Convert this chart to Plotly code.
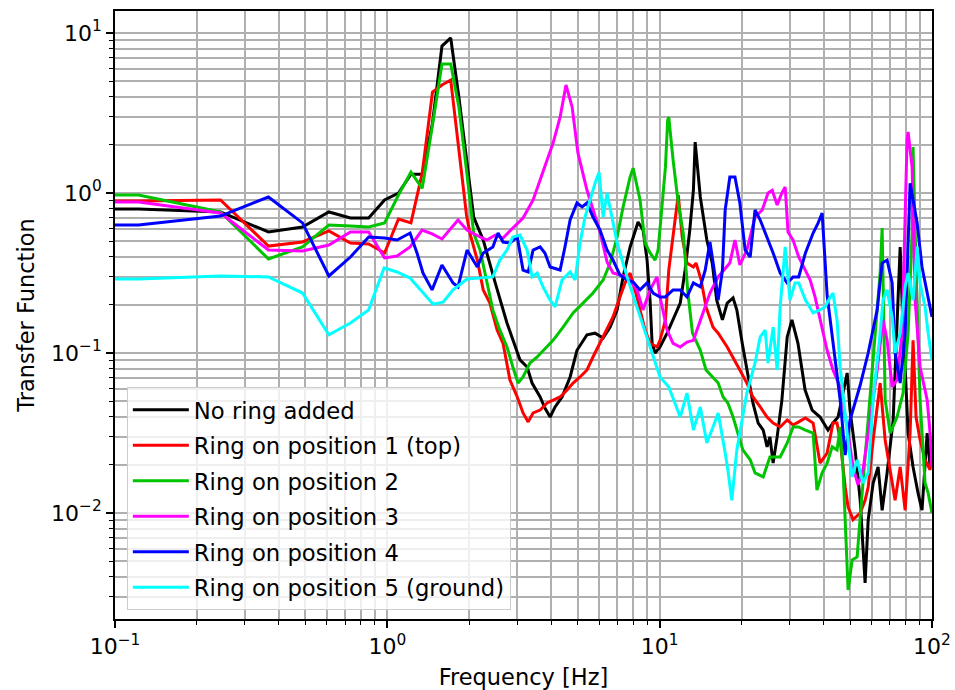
import plotly.graph_objects as go

# ---------------- data ----------------
series_names = [
    "No ring added",
    "Ring on position 1 (top)",
    "Ring on position 2",
    "Ring on position 3",
    "Ring on position 4",
    "Ring on position 5 (ground)",
]

black_f = [0.1, 0.122, 0.244, 0.366, 0.488, 0.610, 0.732, 0.854, 0.977, 1.099,
           1.221, 1.343, 1.465, 1.587, 1.709, 1.831, 2.075, 2.25, 2.49, 2.75,
           3.07, 3.26, 3.40, 3.64, 3.79, 3.96, 4.13, 4.38, 4.69, 4.97,
           5.41, 5.79, 6.20, 6.58, 6.98, 7.34, 7.79, 8.33, 8.69, 8.99,
           9.22, 9.38, 9.62, 10.03, 10.65, 11.2, 11.9, 12.4, 12.9, 13.3,
           13.5, 14.1, 14.9, 15.6, 16.2, 17.0, 17.7, 18.6, 19.2, 20.1,
           20.9, 22.0, 23.0, 24.0, 24.8, 25.4, 26.1, 27.0, 28.1, 29.4,
           30.6, 32.2, 34.2, 36.3, 38.8, 41.5, 43.3, 45.2, 48.8, 50.0,
           52.2, 54.5, 56.8, 58.3, 60.8, 63.4, 65.6, 68.4, 72.0, 74.4,
           76.4, 78.3, 79.7, 81.7, 85.2, 88.9, 91.9, 96.0, 98.4, 100]
black_v = [0.794, 0.794, 0.761, 0.571, 0.613, 0.761, 0.698, 0.698, 0.905, 1.0,
           1.31, 1.31, 2.74, 8.29, 9.31, 3.98, 0.708, 0.508, 0.274, 0.154,
           0.0905, 0.0818, 0.0649, 0.0531, 0.0453, 0.0398, 0.046, 0.0531, 0.0708, 0.104,
           0.130, 0.133, 0.124, 0.145, 0.186, 0.299, 0.46, 0.659, 0.587, 0.381,
           0.214, 0.115, 0.1, 0.109, 0.133, 0.161, 0.205, 0.330, 0.587, 1.04,
           2.08, 0.944, 0.508, 0.365, 0.214, 0.161, 0.205, 0.221, 0.186, 0.115,
           0.0783, 0.0487, 0.0365, 0.033, 0.0259, 0.0299, 0.0205, 0.0299, 0.0506, 0.126,
           0.161, 0.115, 0.0587, 0.044, 0.0398, 0.033, 0.0365, 0.0398, 0.075, 0.044,
           0.0248, 0.012, 0.00366, 0.00905, 0.0154, 0.0194, 0.0104, 0.0178, 0.0381, 0.139,
           0.46, 0.139, 0.0818, 0.0316, 0.0194, 0.0133, 0.0104, 0.0316, 0.0194, 0.0248]

red_f = [0.1, 0.122, 0.244, 0.366, 0.488, 0.610, 0.732, 0.854, 0.977, 1.099,
         1.221, 1.343, 1.465, 1.587, 1.709, 1.831, 1.953, 2.01, 2.14, 2.25,
         2.38, 2.53, 2.66, 2.82, 3.00, 3.15, 3.29, 3.43, 3.64, 3.86,
         4.06, 4.31, 4.57, 4.81, 5.10, 5.41, 5.69, 6.04, 6.41, 6.74,
         7.15, 7.46, 7.79, 8.12, 8.47, 8.84, 9.22, 9.78, 10.03, 10.5,
         10.8, 11.4, 11.7, 12.1, 12.6, 13.3, 13.6, 14.2, 14.8, 15.7,
         16.4, 17.7, 18.6, 19.7, 20.9, 22.0, 23.4, 24.8, 26.1, 27.7,
         29.4, 30.9, 32.4, 34.3, 36.6, 38.8, 41.2, 43.3, 44.8, 46.0,
         48.0, 49.2, 51.3, 54.5, 56.8, 58.3, 60.8, 64.5, 67.3, 70.2,
         73.2, 76.4, 79.7, 83.1, 85.2, 87.4, 90.4, 94.3, 98.4, 100]
red_v = [0.891, 0.891, 0.905, 0.466, 0.494, 0.579, 0.487, 0.48, 0.422, 0.688,
         0.65, 1.33, 4.28, 4.73, 5.08, 1.78, 0.729, 0.562, 0.381, 0.248,
         0.205, 0.139, 0.115, 0.0678, 0.0531, 0.0422, 0.0371, 0.0422, 0.044, 0.0487,
         0.0509, 0.0531, 0.0587, 0.0649, 0.0708, 0.0783, 0.0944, 0.115, 0.139, 0.168,
         0.224, 0.274, 0.316, 0.248, 0.186, 0.139, 0.115, 0.109, 0.12, 0.161,
         0.33, 0.659, 0.972, 0.531, 0.365, 0.345, 0.365, 0.286, 0.194, 0.145,
         0.133, 0.109, 0.0944, 0.0783, 0.0649, 0.0531, 0.046, 0.0398, 0.0365, 0.0345,
         0.0381, 0.0355, 0.0371, 0.0393, 0.0365, 0.0205, 0.0237, 0.0365, 0.0365, 0.0286,
         0.0145, 0.0109, 0.0091, 0.01, 0.012, 0.0145, 0.0286, 0.0649, 0.0286, 0.0186,
         0.012, 0.0194, 0.0104, 0.0316, 0.12, 0.0398, 0.0286, 0.0215, 0.0186, 0.0248]

green_f = [0.1, 0.122, 0.244, 0.366, 0.488, 0.610, 0.732, 0.854, 0.977, 1.099,
           1.221, 1.343, 1.465, 1.587, 1.709, 1.831, 1.953, 2.075, 2.19, 2.32,
           2.44, 2.59, 2.75, 2.89, 3.02, 3.15, 3.34, 3.55, 3.86, 4.06,
           4.42, 4.81, 5.23, 5.69, 6.20, 6.58, 6.98, 7.34, 7.79, 7.99,
           8.47, 8.84, 9.22, 9.62, 9.87, 10.2, 10.5, 10.7, 10.8, 11.2,
           11.7, 12.2, 12.7, 13.2, 14.1, 14.8, 15.7, 16.4, 17.1, 17.8,
           18.6, 19.4, 20.2, 21.5, 22.4, 24.0, 25.4, 27.7, 29.4, 30.9,
           32.4, 34.3, 36.6, 37.8, 39.5, 41.2, 43.0, 44.8, 46.0, 47.2,
           48.8, 49.2, 50.9, 53.1, 54.5, 57.8, 60.8, 64.5, 65.6, 67.3,
           70.2, 74.4, 78.3, 81.7, 84.5, 85.2, 87.4, 90.4, 94.3, 96.8,
           100]
green_v = [0.972, 0.972, 0.761, 0.387, 0.46, 0.631, 0.622, 0.613, 0.65, 0.972,
           1.35, 1.07, 2.66, 6.4, 6.4, 3.45, 1.39, 0.562, 0.44, 0.274,
           0.186, 0.139, 0.109, 0.0818, 0.0649, 0.0708, 0.0866, 0.0944, 0.109, 0.12,
           0.145, 0.178, 0.205, 0.237, 0.286, 0.365, 0.531, 0.818, 1.26, 1.43,
           0.905, 0.487, 0.422, 0.381, 0.44, 0.783, 1.45, 2.86, 2.98, 1.61,
           0.866, 0.562, 0.237, 0.133, 0.104, 0.0783, 0.0708, 0.0649, 0.0531, 0.0487,
           0.0398, 0.0316, 0.0248, 0.0215, 0.0178, 0.0168, 0.0224, 0.0224, 0.0274, 0.0345,
           0.0345, 0.033, 0.0316, 0.0139, 0.0178, 0.0205, 0.0259, 0.0248, 0.0345, 0.0178,
           0.00398, 0.0033, 0.00509, 0.00531, 0.00944, 0.0316, 0.0905, 0.316, 0.604, 0.0509,
           0.0316, 0.0398, 0.0562, 0.133, 0.562, 1.94, 0.345, 0.0509, 0.0154, 0.0133,
           0.01]

magenta_f = [0.1, 0.122, 0.244, 0.366, 0.488, 0.610, 0.732, 0.854, 0.977,
             1.086, 1.212, 1.341, 1.46, 1.587, 1.818, 1.962, 2.19, 2.32, 2.49,
             2.66, 2.89, 3.15, 3.43, 3.73, 4.06, 4.31, 4.53, 4.77, 5.01,
             5.41, 6.04, 6.41, 6.74, 7.59, 8.26, 8.69, 9.22, 9.78, 10.03,
             10.65, 11.2, 11.9, 12.6, 13.3, 14.1, 15.3, 16.4, 18.1, 18.9,
             19.7, 20.9, 22.4, 23.8, 25.0, 25.9, 27.0, 28.1, 28.9, 29.6,
             30.9, 32.4, 34.2, 35.7, 37.2, 39.5, 41.2, 43.3, 46.0, 49.2,
             51.3, 53.5, 55.8, 59.3, 62.9, 66.1, 68.4, 71.4, 74.4, 77.7,
             81.0, 81.7, 84.5, 86.7, 90.4, 96.0, 98.4, 100]
magenta_v = [0.878, 0.878, 0.75, 0.44, 0.434, 0.473, 0.571, 0.571, 0.393,
             0.404, 0.46, 0.587, 0.555, 0.516, 0.678, 0.587, 0.531, 0.508, 0.546,
             0.523, 0.604, 0.698, 0.905, 1.35, 2.05, 2.98, 4.73, 3.45, 1.78,
             1.04, 0.571, 0.371, 0.316, 0.299, 0.248, 0.186, 0.248, 0.299, 0.224,
             0.139, 0.115, 0.109, 0.117, 0.12, 0.161, 0.237, 0.299, 0.365, 0.508,
             0.355, 0.44, 0.708, 0.783, 1.0, 1.04, 0.841, 1.0, 1.09, 0.571,
             0.508, 0.398, 0.33, 0.286, 0.224, 0.139, 0.104, 0.0783, 0.0613, 0.0316,
             0.0194, 0.015, 0.0186, 0.0381, 0.0783, 0.161, 0.12, 0.0613, 0.0678, 0.133,
             2.14, 2.41, 1.45, 0.214, 0.0818, 0.0509, 0.0316, 0.0194]

blue_f = [0.1, 0.122, 0.244, 0.366, 0.488, 0.610, 0.732, 0.854, 0.977,
          1.086, 1.212, 1.285, 1.352, 1.46, 1.587, 1.743, 1.818, 1.962, 2.14,
          2.25, 2.44, 2.55, 2.66, 2.82, 3.00, 3.15, 3.29, 3.43, 3.64,
          3.79, 3.96, 4.31, 4.49, 4.69, 4.97, 5.19, 5.41, 5.69, 6.04,
          6.41, 6.74, 7.15, 7.59, 7.99, 8.47, 8.99, 9.46, 10.03, 10.5,
          11.2, 11.9, 12.6, 13.3, 14.1, 14.7, 15.3, 16.0, 16.4, 17.0,
          17.4, 18.1, 18.9, 19.7, 20.6, 21.5, 22.4, 23.4, 24.8, 26.1,
          27.7, 29.4, 30.9, 32.4, 34.3, 36.6, 38.2, 39.5, 41.2, 43.3,
          46.0, 48.0, 50.0, 54.5, 58.3, 62.9, 65.6, 68.4, 71.4, 73.2,
          76.4, 79.7, 83.1, 85.2, 88.2, 91.9, 96.0, 100]
blue_v = [0.631, 0.631, 0.718, 0.944, 0.65, 0.303, 0.398, 0.531, 0.523,
          0.508, 0.562, 0.422, 0.316, 0.248, 0.355, 0.274, 0.259, 0.44, 0.345,
          0.422, 0.46, 0.562, 0.494, 0.487, 0.531, 0.33, 0.321, 0.44, 0.46,
          0.422, 0.345, 0.33, 0.46, 0.678, 0.866, 0.818, 0.866, 0.708, 0.587,
          0.44, 0.381, 0.307, 0.286, 0.278, 0.248, 0.274, 0.237, 0.224, 0.224,
          0.248, 0.248, 0.224, 0.274, 0.259, 0.33, 0.494, 0.299, 0.214, 0.33,
          0.783, 1.26, 1.26, 0.866, 0.44, 0.398, 0.783, 0.678, 0.531, 0.422,
          0.316, 0.274, 0.299, 0.299, 0.422, 0.562, 0.65, 0.75, 0.23, 0.112,
          0.0509, 0.023, 0.0381, 0.0631, 0.1, 0.186, 0.365, 0.381, 0.274, 0.1,
          0.0649, 0.133, 1.15, 0.905, 0.65, 0.345, 0.237, 0.168]

cyan_f = [0.1, 0.122, 0.244, 0.366, 0.488, 0.610, 0.732, 0.854, 0.973,
          1.086, 1.212, 1.352, 1.472, 1.602, 1.743, 1.962, 2.19, 2.44, 2.59,
          2.75, 2.89, 3.07, 3.26, 3.40, 3.55, 3.73, 3.96, 4.13, 4.38,
          4.69, 4.89, 5.10, 5.32, 5.55, 5.79, 5.99, 6.20, 6.41, 6.69,
          6.98, 7.59, 8.26, 8.99, 9.62, 10.03, 10.8, 11.9, 12.6, 13.3,
          14.1, 14.9, 15.7, 16.4, 17.4, 17.8, 18.4, 19.2, 20.9, 22.4,
          23.4, 24.4, 25.0, 26.1, 27.0, 27.7, 28.9, 30.1, 31.4, 32.4,
          34.3, 36.6, 38.8, 40.5, 42.3, 43.3, 44.8, 46.0, 48.8, 50.9,
          53.1, 55.8, 58.3, 60.8, 64.5, 66.1, 68.4, 71.4, 73.2, 76.4,
          79.7, 81.7, 85.2, 88.2, 90.4, 94.3, 96.8, 100]
cyan_v = [0.29, 0.29, 0.303, 0.299, 0.237, 0.13, 0.154, 0.186, 0.34,
          0.321, 0.294, 0.237, 0.202, 0.208, 0.248, 0.29, 0.294, 0.299, 0.381,
          0.44, 0.531, 0.546, 0.44, 0.299, 0.316, 0.259, 0.214, 0.194, 0.286,
          0.321, 0.286, 0.487, 0.708, 0.905, 1.15, 1.35, 0.708, 1.0, 0.708,
          0.487, 0.299, 0.194, 0.126, 0.0866, 0.0708, 0.0613, 0.0398, 0.0562, 0.033,
          0.046, 0.0274, 0.0345, 0.0422, 0.0237, 0.0186, 0.012, 0.0248, 0.0562, 0.0866,
          0.126, 0.139, 0.0866, 0.145, 0.0783, 0.194, 0.46, 0.214, 0.274, 0.274,
          0.214, 0.178, 0.186, 0.194, 0.224, 0.237, 0.161, 0.0818, 0.0316, 0.0168,
          0.0215, 0.0154, 0.0178, 0.0509, 0.133, 0.214, 0.248, 0.168, 0.1, 0.133,
          0.259, 0.316, 0.214, 0.46, 0.274, 0.194, 0.133, 0.0905]

x_tick_vals = [0.1, 1, 10, 100]
x_tick_text = ["10<sup>\u22121</sup>", "10<sup>0</sup>", "10<sup>1</sup>", "10<sup>2</sup>"]
y_tick_vals = [0.01, 0.1, 1, 10]
y_tick_text = ["10<sup>\u22122</sup>", "10<sup>\u22121</sup>", "10<sup>0</sup>", "10<sup>1</sup>"]

x_label = "Frequency [Hz]"
y_label = "Transfer Function"

# ---------------- figure ----------------
colors = ["#000000", "#ff0000", "#00c400", "#ff00ff", "#0000ff", "#00ffff"]
all_f = [black_f, red_f, green_f, magenta_f, blue_f, cyan_f]
all_v = [black_v, red_v, green_v, magenta_v, blue_v, cyan_v]

fig = go.Figure()
for i, (name, f, v, c) in enumerate(zip(series_names, all_f, all_v, colors)):
    fig.add_trace(go.Scatter(x=f, y=v, mode="lines", name=name,
                             legendgroup="g%d" % i,
                             line=dict(color=c, width=3)))

minor_x = [m * 10.0 ** e for e in range(-1, 2) for m in range(2, 10)]
minor_y = [m * 10.0 ** e for e in range(-3, 2) for m in range(2, 10)]

FONT = "DejaVu Sans"
grid_c = "#b0b0b0"

axis_common = dict(
    type="log",
    automargin=False,
    showline=True, linecolor="black", linewidth=1.6, mirror=True,
    ticks="outside", ticklen=7, tickwidth=1.6, tickcolor="black",
    showgrid=True, gridcolor=grid_c, gridwidth=1.5,
    zeroline=False,
    tickfont=dict(family=FONT, size=22, color="black"),
)

fig.update_layout(
    width=955, height=690,
    margin=dict(l=115, r=23, t=11, b=71),
    paper_bgcolor="white", plot_bgcolor="white",
    font=dict(family=FONT, size=22, color="black"),
    showlegend=True,
    legend=dict(
        x=0.0145, y=0.014, xanchor="left", yanchor="bottom",
        bgcolor="rgba(255,255,255,0.8)", bordercolor="#cccccc", borderwidth=1,
        font=dict(family=FONT, size=22.7, color="black"),
        itemwidth=56, tracegroupgap=3,
    ),
    xaxis=dict(
        axis_common,
        range=[-1, 2],
        tickmode="array", tickvals=x_tick_vals, ticktext=x_tick_text,
        minor=dict(tickmode="array", tickvals=minor_x, ticks="outside", ticklen=4,
                   tickwidth=1.2, tickcolor="black",
                   showgrid=True, gridcolor=grid_c, gridwidth=1.5),
        title=dict(text=x_label, font=dict(family=FONT, size=22.5), standoff=16),
    ),
    yaxis=dict(
        axis_common,
        range=[-2.6625, 1.1375],
        tickmode="array", tickvals=y_tick_vals, ticktext=y_tick_text,
        minor=dict(tickmode="array", tickvals=minor_y, ticks="outside", ticklen=4,
                   tickwidth=1.2, tickcolor="black",
                   showgrid=True, gridcolor=grid_c, gridwidth=1.5),
        title=dict(text=y_label, font=dict(family=FONT, size=22.5), standoff=10),
    ),
)

fig.write_html("out.html")
